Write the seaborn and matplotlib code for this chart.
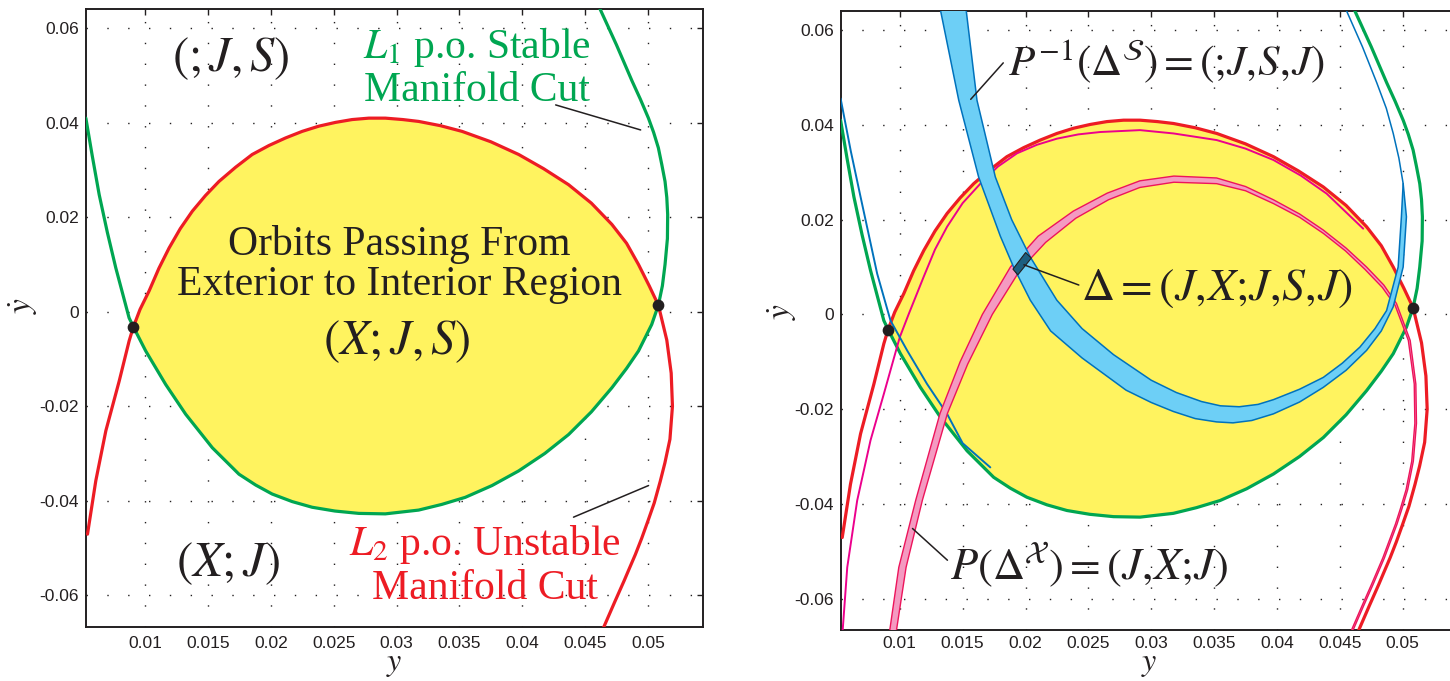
import numpy as np
import matplotlib
matplotlib.use('Agg')
import matplotlib.pyplot as plt
import seaborn as sns

sns.set_theme(style='white')
plt.rcParams['font.family'] = ['Liberation Sans', 'DejaVu Sans']
plt.rcParams['mathtext.fontset'] = 'stix'

# --- data (y, y-dot) ---
# L2 periodic orbit unstable manifold cut (red)
red_y = [0.00542, 0.00608, 0.00688, 0.00794, 0.00873, 0.00907, 0.00960, 0.01032, 0.01110,
         0.01191, 0.01280, 0.01376, 0.01480, 0.01588, 0.01720, 0.01852, 0.01985, 0.02117,
         0.02250, 0.02382, 0.02515, 0.02647, 0.02780, 0.02911, 0.03050, 0.03177, 0.03350,
         0.03521, 0.03750, 0.03972, 0.04170, 0.04369, 0.04550, 0.04713, 0.04830, 0.04925,
         0.05010, 0.05083, 0.05150, 0.05185, 0.05195, 0.05175, 0.05135, 0.05098, 0.05050,
         0.05000, 0.04950, 0.04900, 0.04850, 0.04810, 0.04735, 0.04650, 0.04628]
red_ydot = [-0.0471, -0.0358, -0.0252, -0.0147, -0.0062, -0.0032, 0.0005, 0.0044, 0.0092,
            0.0135, 0.0176, 0.0213, 0.0246, 0.0276, 0.0306, 0.0333, 0.0352, 0.0368,
            0.0382, 0.0393, 0.0401, 0.0407, 0.0410, 0.0410, 0.0407, 0.0403, 0.0394,
            0.0382, 0.0360, 0.0333, 0.0303, 0.0269, 0.0230, 0.0185, 0.0145, 0.0100,
            0.0055, 0.0014, -0.0060, -0.0130, -0.0200, -0.0270, -0.0320, -0.0359, -0.0405,
            -0.0443, -0.0480, -0.0514, -0.0545, -0.0570, -0.0615, -0.0667, -0.0680]

# L1 periodic orbit stable manifold cut (green)
green_y = [0.00529, 0.00580, 0.00635, 0.00700, 0.00767, 0.00873, 0.00907, 0.01005, 0.01164,
           0.01323, 0.01535, 0.01747, 0.01880, 0.02011, 0.02170, 0.02329, 0.02510, 0.02700,
           0.02911, 0.03176, 0.03360, 0.03547, 0.03760, 0.03972, 0.04180, 0.04369, 0.04550,
           0.04713, 0.04830, 0.04925, 0.05030, 0.05083, 0.05115, 0.05136, 0.05155, 0.05157,
           0.05150, 0.05136, 0.05110, 0.05083, 0.05045, 0.05004, 0.04940, 0.04873, 0.04750,
           0.04621, 0.04590]
green_ydot = [0.0410, 0.0330, 0.0248, 0.0168, 0.0093, -0.0013, -0.0032, -0.0083, -0.0154,
              -0.0217, -0.0288, -0.0344, -0.0367, -0.0386, -0.0402, -0.0414, -0.0422, -0.0427,
              -0.0428, -0.0420, -0.0408, -0.0393, -0.0368, -0.0337, -0.0300, -0.0260, -0.0212,
              -0.0161, -0.0120, -0.0083, -0.0027, 0.0014, 0.0055, 0.0100, 0.0155, 0.0206,
              0.0242, 0.0276, 0.0312, 0.0347, 0.0380, 0.0410, 0.0450, 0.0489, 0.0565,
              0.0640, 0.0660]

# intersection points
dot_y = [0.00907, 0.05083]
dot_ydot = [-0.0032, 0.0014]

# P^{-1}(Delta^S) band (blue), outer and inner edges
blue_outer_y = [0.01310, 0.01323, 0.01469, 0.01627, 0.01800, 0.01905, 0.02038, 0.02200, 0.02450,
                0.02800, 0.03000, 0.03176, 0.03350, 0.03520, 0.03650, 0.03800, 0.03972, 0.04180,
                0.04369, 0.04550, 0.04713, 0.04830, 0.04925, 0.05004, 0.05030, 0.05004, 0.04970,
                0.04925, 0.04870, 0.04794, 0.04680, 0.04555, 0.04520]
blue_outer_ydot = [0.0660, 0.0643, 0.0452, 0.0290, 0.0165, 0.0100, 0.0030, -0.0035, -0.0092,
                   -0.0160, -0.0186, -0.0205, -0.0220, -0.0227, -0.0229, -0.0224, -0.0210, -0.0185,
                   -0.0154, -0.0118, -0.0076, -0.0035, 0.0016, 0.0100, 0.0206, 0.0276, 0.0330,
                   0.0382, 0.0435, 0.0489, 0.0565, 0.0640, 0.0660]
blue_inner_y = [0.01520, 0.01614, 0.01760, 0.01890, 0.02038, 0.02249, 0.02450, 0.02700, 0.03000,
                0.03200, 0.03400, 0.03550, 0.03700, 0.03850, 0.03972, 0.04180, 0.04369, 0.04520,
                0.04660, 0.04780, 0.04872, 0.04964, 0.04990, 0.05004]
blue_inner_ydot = [0.0660, 0.0452, 0.0290, 0.0200, 0.0121, 0.0030, -0.0030, -0.0085, -0.0139,
                   -0.0165, -0.0184, -0.0193, -0.0195, -0.0190, -0.0180, -0.0158, -0.0133, -0.0103,
                   -0.0069, -0.0030, 0.0008, 0.0100, 0.0206, 0.0276]

# thin blue curve on the left
blue_line_y = [0.00529, 0.00610, 0.00688, 0.00820, 0.00926, 0.01058, 0.01217, 0.01376, 0.01500,
               0.01720]
blue_line_ydot = [0.0456, 0.0345, 0.0248, 0.0086, -0.0013, -0.0076, -0.0147, -0.0210, -0.0272,
                  -0.0323]

# thin magenta curve inside the red one
mag_y = [0.00542, 0.00582, 0.00661, 0.00767, 0.00873, 0.01000, 0.01070, 0.01191, 0.01280,
         0.01376, 0.01500, 0.01641, 0.01780, 0.01932, 0.02090, 0.02250, 0.02420, 0.02594,
         0.02911, 0.03177, 0.03521, 0.03750, 0.03972, 0.04190, 0.04395, 0.04686]
mag_ydot = [-0.0680, -0.0534, -0.0393, -0.0266, -0.0168, -0.0048, 0.0000, 0.0080, 0.0137,
            0.0185, 0.0235, 0.0276, 0.0312, 0.0340, 0.0358, 0.0371, 0.0380, 0.0385,
            0.0389, 0.0382, 0.0368, 0.0350, 0.0326, 0.0293, 0.0255, 0.0181]

# P(Delta^X) band (pink), outer and inner edges
pink_outer_y = [0.00913, 0.00992, 0.01127, 0.01320, 0.01480, 0.01657, 0.01880, 0.02100, 0.02380,
                0.02650, 0.02910, 0.03180, 0.03520, 0.03750, 0.03972, 0.04180, 0.04369, 0.04550,
                0.04713, 0.04850, 0.04951, 0.05060, 0.05105, 0.05110, 0.05085, 0.05040, 0.04995,
                0.04955, 0.04855, 0.04765, 0.04690, 0.04605, 0.04583]
pink_outer_ydot = [-0.0680, -0.0534, -0.0392, -0.0209, -0.0100, 0.0000, 0.0100, 0.0165, 0.0218,
                   0.0256, 0.0282, 0.0292, 0.0288, 0.0270, 0.0242, 0.0212, 0.0178, 0.0140,
                   0.0100, 0.0062, 0.0023, -0.0055, -0.0147, -0.0230, -0.0310, -0.0370, -0.0410,
                   -0.0443, -0.0514, -0.0570, -0.0615, -0.0667, -0.0680]
pink_inner_y = [0.00966, 0.01050, 0.01180, 0.01379, 0.01540, 0.01736, 0.01960, 0.02160, 0.02400,
                0.02660, 0.02910, 0.03180, 0.03520, 0.03750, 0.03972, 0.04180, 0.04369, 0.04545,
                0.04700, 0.04838, 0.04940, 0.05045, 0.05092, 0.05097, 0.05072, 0.05027, 0.04982,
                0.04942, 0.04842, 0.04752, 0.04677, 0.04592, 0.04570]
pink_inner_ydot = [-0.0680, -0.0534, -0.0392, -0.0209, -0.0105, 0.0000, 0.0095, 0.0152, 0.0203,
                   0.0242, 0.0268, 0.0279, 0.0276, 0.0261, 0.0234, 0.0205, 0.0171, 0.0134,
                   0.0095, 0.0057, 0.0019, -0.0055, -0.0147, -0.0230, -0.0310, -0.0370, -0.0410,
                   -0.0443, -0.0514, -0.0570, -0.0615, -0.0667, -0.0680]

# Delta = intersection quadrilateral
delta_y = [0.01900, 0.01939, 0.02046, 0.02001]
delta_ydot = [0.00955, 0.00835, 0.01188, 0.01307]

x_ticks = [0.01, 0.015, 0.02, 0.025, 0.03, 0.035, 0.04, 0.045, 0.05]
x_tick_labels = ['0.01', '0.015', '0.02', '0.025', '0.03', '0.035', '0.04', '0.045', '0.05']
y_ticks = [-0.06, -0.04, -0.02, 0.0, 0.02, 0.04, 0.06]
y_tick_labels = ['-0.06', '-0.04', '-0.02', '0', '0.02', '0.04', '0.06']

RED = '#ed1c24'
GREEN = '#00a651'
YELLOW = '#fff35f'
BLUE_FILL = '#6dcff6'
BLUE_EDGE = '#0072bc'
PINK_FILL = '#f49ac1'
PINK_EDGE = '#ed145b'
MAGENTA = '#ec008c'
INK = '#231f20'
SERIF = ['Liberation Serif', 'DejaVu Serif']


def nearest(xs, ys, px, py):
    return int(np.argmin((np.asarray(xs) - px) ** 2 + (np.asarray(ys) - py) ** 2))


def style_axes(ax, xpad):
    ax.set_xlim(0.0053, 0.0544)
    ax.set_ylim(-0.0667, 0.0641)
    ax.set_xticks(x_ticks)
    ax.set_xticklabels(x_tick_labels)
    ax.set_yticks(y_ticks)
    ax.set_yticklabels(y_tick_labels)
    ax.tick_params(direction='in', top=True, right=True, length=4, width=1.0,
                   colors=INK, labelsize=12.5)
    ax.tick_params(axis='x', pad=xpad)
    ax.tick_params(axis='y', pad=5)
    ax.grid(True, color=INK, linestyle=(0, (1, 14)), linewidth=1.0)
    ax.set_axisbelow(True)
    for s in ax.spines.values():
        s.set_linewidth(1.4)
        s.set_color(INK)
    ax.set_facecolor('white')


def draw_base(ax):
    # yellow region between the two dots, bounded by red above and green below
    r0 = nearest(red_y, red_ydot, dot_y[0], dot_ydot[0])
    r1 = nearest(red_y, red_ydot, dot_y[1], dot_ydot[1])
    g0 = nearest(green_y, green_ydot, dot_y[0], dot_ydot[0])
    g1 = nearest(green_y, green_ydot, dot_y[1], dot_ydot[1])
    fx = list(red_y[r0:r1 + 1]) + list(green_y[g0:g1 + 1])[::-1]
    fy = list(red_ydot[r0:r1 + 1]) + list(green_ydot[g0:g1 + 1])[::-1]
    ax.fill(fx, fy, color=YELLOW, lw=0, zorder=1)
    sns.lineplot(x=red_y, y=red_ydot, sort=False, estimator=None, ax=ax,
                 color=RED, lw=2.3, zorder=3)
    sns.lineplot(x=green_y, y=green_ydot, sort=False, estimator=None, ax=ax,
                 color=GREEN, lw=2.3, zorder=3)


fig = plt.figure(figsize=(14.5, 6.81), dpi=100)
ax_l = fig.add_axes([0.0593, 0.0797, 0.4257, 0.9070])
ax_r = fig.add_axes([0.5798, 0.0744, 0.4257, 0.9098])

# ---------------- left panel ----------------
style_axes(ax_l, 7)
draw_base(ax_l)
ax_l.scatter(dot_y, dot_ydot, s=55, color=INK, zorder=6)

ax_l.text(0.0168, 0.0536, r'$(;J,S)$', fontsize=35, color=INK, ha='center', va='center')
ax_l.text(0.0364, 0.0538, r'$L_1$ p.o. Stable', fontsize=30, color=GREEN, ha='center',
          va='baseline', family=SERIF)
ax_l.text(0.0364, 0.0447, 'Manifold Cut', fontsize=30, color=GREEN, ha='center',
          va='baseline', family=SERIF)
ax_l.plot([0.04266, 0.04942], [0.0438, 0.0385], color=INK, lw=1.1, zorder=5)

ax_l.text(0.0302, 0.0121, 'Orbits Passing From', fontsize=30, color=INK, ha='center',
          va='baseline', family=SERIF)
ax_l.text(0.0302, 0.0035, 'Exterior to Interior Region', fontsize=30, color=INK,
          ha='center', va='baseline', family=SERIF)
ax_l.text(0.0300, -0.0063, r'$(X;J,S)$', fontsize=35, color=INK, ha='center', va='center')

ax_l.text(0.0166, -0.0533, r'$(X;J)$', fontsize=35, color=INK, ha='center', va='center')
ax_l.text(0.0370, -0.0515, r'$L_2$ p.o. Unstable', fontsize=30, color=RED, ha='center',
          va='baseline', family=SERIF)
ax_l.text(0.0370, -0.0609, 'Manifold Cut', fontsize=30, color=RED, ha='center',
          va='baseline', family=SERIF)
ax_l.plot([0.04408, 0.05005], [-0.0435, -0.0368], color=INK, lw=1.1, zorder=5)

# ---------------- right panel ----------------
style_axes(ax_r, 4)
draw_base(ax_r)
sns.lineplot(x=mag_y, y=mag_ydot, sort=False, estimator=None, ax=ax_r,
             color=MAGENTA, lw=1.4, zorder=4)
sns.lineplot(x=blue_line_y, y=blue_line_ydot, sort=False, estimator=None, ax=ax_r,
             color=BLUE_EDGE, lw=1.4, zorder=4)

# pink band
ax_r.fill(pink_outer_y + pink_inner_y[::-1], pink_outer_ydot + pink_inner_ydot[::-1],
          color=PINK_FILL, lw=0, zorder=4.2)
for xs, ys in [(pink_outer_y, pink_outer_ydot), (pink_inner_y, pink_inner_ydot)]:
    sns.lineplot(x=xs, y=ys, sort=False, estimator=None, ax=ax_r,
                 color=PINK_EDGE, lw=1.0, zorder=4.3)

# blue band (inner edge merges into the outer one on the right)
m = nearest(blue_outer_y, blue_outer_ydot, blue_inner_y[-1], blue_inner_ydot[-1])
ax_r.fill(blue_outer_y[:m + 1] + blue_inner_y[::-1],
          blue_outer_ydot[:m + 1] + blue_inner_ydot[::-1],
          color=BLUE_FILL, lw=0, zorder=4.5)
for xs, ys in [(blue_outer_y, blue_outer_ydot), (blue_inner_y, blue_inner_ydot)]:
    sns.lineplot(x=xs, y=ys, sort=False, estimator=None, ax=ax_r,
                 color=BLUE_EDGE, lw=1.1, zorder=4.6)

ax_r.fill(delta_y, delta_ydot, facecolor='#1d5f80', edgecolor=INK, lw=0.8, zorder=5)
ax_r.scatter(dot_y, dot_ydot, s=55, color=INK, zorder=6)

ax_r.text(0.0186, 0.0505, r'$P^{-1}(\Delta^{\mathcal{S}}) = (;\!J,\!S,\!J)$', fontsize=31,
          color=INK, ha='left', va='baseline')
ax_r.plot([0.01564, 0.01823], [0.0454, 0.0531], color=INK, lw=1.1, zorder=7)
ax_r.text(0.0244, 0.0031, r'$\Delta = (J,\!X;\!J,\!S,\!J)$', fontsize=33, color=INK,
          ha='left', va='baseline')
ax_r.plot([0.01987, 0.02424], [0.01047, 0.0062], color=INK, lw=1.1, zorder=7)
ax_r.text(0.0140, -0.0558, r'$P(\Delta^{\mathcal{X}}) = (J,\!X;\!J)$', fontsize=32, color=INK,
          ha='left', va='baseline')
ax_r.plot([0.01101, 0.01379], [-0.0452, -0.0519], color=INK, lw=1.1, zorder=7)

for ax, ybase, lx, ly in [(ax_l, -0.0701, -0.102, 0.52), (ax_r, -0.0641, -0.094, 0.514)]:
    ax.set_xlabel('')
    ax.set_ylabel('')
    ax.text(0.5, ybase, r'$y$', transform=ax.transAxes, fontsize=23, color=INK,
            ha='center', va='baseline')
    ax.text(lx, ly, r'$\dot{y}$', transform=ax.transAxes, fontsize=24, color=INK,
            ha='center', va='center', rotation=90)

fig.savefig('out.png', dpi=100)
